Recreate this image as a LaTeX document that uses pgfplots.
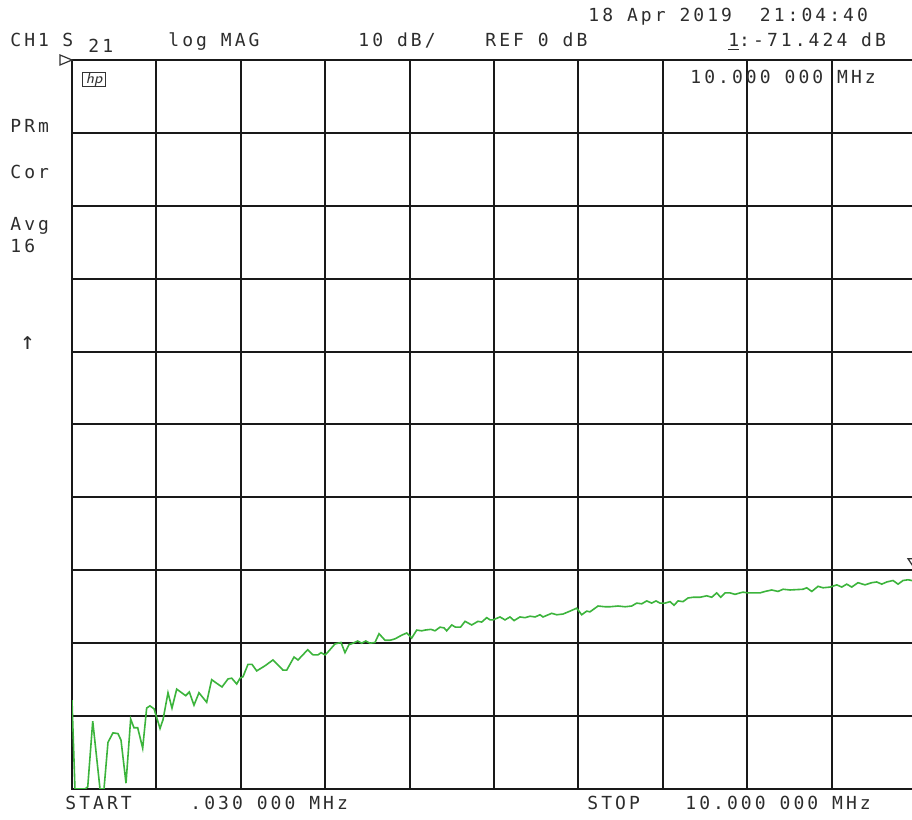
\documentclass[border=0pt]{standalone}
\usepackage{pgfplots}
\pgfplotsset{compat=1.18}
\usepackage{fontspec}
\newfontfamily\hp[LetterSpace=17]{DejaVu Sans Mono}
\definecolor{trace}{RGB}{60,180,60}
\definecolor{txt}{RGB}{45,45,45}
\newcommand\T[3]{\node[anchor=base west,inner sep=0pt,text=txt,font=\fontsize{9}{10}\hp] at ({#1*0.5pt},{(820-#2)*0.5pt}) {#3};}
\pgfplotstableread{
f dB
0.030 -87.8
0.065 -100
0.184 -100
0.216 -99.7
0.275 -90.7
0.361 -100
0.408 -100
0.455 -93.6
0.514 -92.3
0.573 -92.4
0.609 -93.3
0.668 -99.2
0.723 -90.4
0.762 -91.6
0.806 -91.6
0.865 -94.4
0.912 -88.9
0.951 -88.6
0.999 -89.0
1.070 -91.7
1.105 -90.5
1.164 -86.8
1.211 -88.9
1.267 -86.3
1.326 -86.8
1.373 -87.2
1.416 -86.7
1.471 -88.5
1.530 -86.8
1.621 -88.1
1.680 -85.0
1.739 -85.5
1.802 -86.0
1.873 -84.9
1.917 -84.8
1.976 -85.6
2.015 -84.8
2.050 -84.6
2.109 -82.9
2.156 -82.9
2.212 -83.8
2.310 -83.1
2.404 -82.3
2.523 -83.7
2.566 -83.7
2.653 -81.9
2.700 -82.3
2.814 -80.9
2.877 -81.6
2.936 -81.6
2.972 -81.3
3.019 -81.6
3.054 -81.2
3.137 -80.1
3.208 -79.9
3.255 -81.3
3.302 -80.2
3.350 -80.0
3.405 -79.7
3.452 -80.0
3.500 -79.7
3.550 -80.0
3.609 -79.9
3.657 -78.7
3.728 -79.6
3.787 -79.6
3.846 -79.4
3.925 -78.9
3.984 -78.6
4.043 -79.3
4.102 -78.2
4.161 -78.3
4.200 -78.2
4.271 -78.1
4.318 -78.3
4.377 -77.8
4.425 -77.9
4.456 -78.3
4.516 -77.5
4.560 -77.8
4.620 -77.8
4.673 -77.0
4.752 -77.5
4.826 -77.0
4.870 -77.1
4.929 -76.5
4.968 -76.8
5.003 -76.8
5.086 -76.4
5.145 -76.8
5.204 -76.4
5.252 -76.9
5.322 -76.4
5.381 -76.5
5.441 -76.3
5.500 -76.4
5.559 -76.1
5.594 -76.4
5.697 -75.9
5.756 -76.1
5.830 -76.0
5.913 -75.6
5.992 -75.2
6.051 -76.1
6.110 -75.6
6.149 -75.7
6.244 -74.9
6.327 -75.0
6.386 -75.0
6.480 -74.9
6.563 -75.0
6.642 -74.9
6.701 -74.5
6.760 -74.6
6.819 -74.2
6.878 -74.5
6.929 -74.2
6.976 -74.5
7.035 -74.5
7.095 -74.3
7.142 -74.8
7.189 -74.2
7.248 -74.3
7.307 -73.8
7.366 -73.7
7.449 -73.7
7.528 -73.5
7.587 -73.7
7.646 -73.1
7.693 -73.7
7.744 -73.1
7.803 -73.1
7.862 -73.3
7.921 -73.1
7.957 -73.0
8.016 -73.1
8.075 -73.1
8.158 -73.1
8.217 -72.9
8.296 -72.7
8.370 -72.9
8.430 -72.6
8.512 -72.7
8.666 -72.6
8.709 -72.4
8.769 -72.9
8.843 -72.2
8.902 -72.4
8.985 -72.3
9.064 -72.0
9.123 -72.3
9.182 -71.9
9.241 -72.3
9.315 -71.7
9.398 -72.0
9.477 -71.7
9.536 -71.6
9.595 -71.9
9.655 -71.6
9.729 -71.4
9.788 -71.9
9.847 -71.4
9.906 -71.3
9.950 -71.4
10.000 -71.424
}\trace
\begin{document}
\begin{tikzpicture}
\path[use as bounding box] (0,0) rectangle (456pt,410pt);
\clip (0,0) rectangle (456pt,410pt);
\fill[white] (0,0) rectangle (456pt,410pt);
\begin{axis}[
  at={(36pt,15.5pt)}, anchor=south west,
  scale only axis, width=422pt, height=364.5pt,
  xmin=0.03, xmax=10, ymin=-100, ymax=0,
  xtick={0.03,1.027,2.024,3.021,4.018,5.015,6.012,7.009,8.006,9.003,10},
  ytick={-100,-90,...,0},
  xticklabels={}, yticklabels={},
  major tick length=0pt,
  grid=major,
  grid style={black!90, line width=1pt},
  axis line style={black!90, line width=1pt},
  clip=true,
]
\addplot[trace, line width=0.8pt, mark=none] table[x=f,y=dB] {\trace};
\coordinate (mk) at (axis cs:10,-71.424);
\end{axis}
% marker triangle at 10 MHz
\draw[black!80, line width=0.6pt] ([yshift=5pt]mk) -- ++(-4pt,6pt) -- ++(8pt,0) -- cycle;
% reference position triangle
\draw[black!80, line width=0.6pt] (36pt,380pt) -- (30pt,382.5pt) -- (30pt,377.5pt) -- cycle;
% hp logo
\node[draw=black!80, line width=0.5pt, minimum width=11.5pt, minimum height=7pt, inner sep=0pt, anchor=north west, font=\fontsize{7.5}{8}\sffamily\itshape, text=black!80] at (41pt,374pt) {hp};
\T{10}{47}{CH1}
\T{62}{47}{S}
\T{88}{53}{21}
\T{168}{47}{log MAG}
\T{358}{47}{10 dB/}
\T{485}{47}{REF 0 dB}
\T{728}{47}{\underline{1}:-71.424 dB}
\T{588}{22}{18 Apr 2019~~21:04:40}
\T{690}{84}{10.000 000 MHz}
\T{10}{133}{PRm}
\T{10}{179}{Cor}
\T{10}{231}{Avg}
\T{10}{253}{16}
\node[anchor=base west,inner sep=0pt,text=txt,font=\fontsize{12}{12}\hp] at (10pt,235pt) {↑};
\T{65}{810}{START}
\T{190}{810}{.030 000 MHz}
\T{587}{810}{STOP}
\T{685}{810}{10.000 000 MHz}
\end{tikzpicture}
\end{document}
